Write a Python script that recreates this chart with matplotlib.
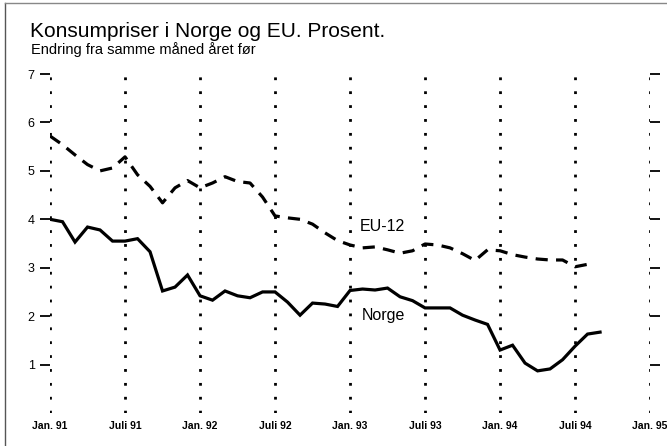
import numpy as np
import matplotlib.pyplot as plt
from matplotlib.lines import Line2D

# Monthly 12-month change, Jan 91 onwards
norge = [4.0, 3.95, 3.53, 3.84, 3.78, 3.55, 3.55, 3.6, 3.33, 2.52, 2.6, 2.85,
         2.42, 2.33, 2.52, 2.42, 2.38, 2.5, 2.5, 2.29, 2.02, 2.27, 2.25, 2.2,
         2.53, 2.56, 2.54, 2.58, 2.4, 2.32, 2.17, 2.17, 2.17, 2.02, 1.92, 1.83,
         1.3, 1.4, 1.03, 0.87, 0.91, 1.1, 1.38, 1.63, 1.67]
eu12 = [5.72, 5.54, 5.33, 5.13, 5.0, 5.06, 5.29, 4.92, 4.68, 4.34, 4.65, 4.8,
        4.65, 4.75, 4.88, 4.78, 4.75, 4.46, 4.07, 4.03, 4.0, 3.9, 3.72, 3.56,
        3.47, 3.41, 3.43, 3.37, 3.3, 3.35, 3.49, 3.47, 3.41, 3.29, 3.15, 3.37,
        3.35, 3.27, 3.22, 3.18, 3.16, 3.16, 3.02, 3.07]
tick_labels = ['Jan. 91', 'Juli 91', 'Jan. 92', 'Juli 92', 'Jan. 93',
               'Juli 93', 'Jan. 94', 'Juli 94', 'Jan. 95']
yticks = [1, 2, 3, 4, 5, 6, 7]

plt.rcParams['font.family'] = ['Liberation Sans', 'DejaVu Sans']

fig = plt.figure(figsize=(6.67, 4.46), dpi=100)
ax = fig.add_axes([0.075, 0.074, 0.8996, 0.760])

x_n = np.arange(len(norge))
x_e = np.arange(len(eu12))
xt = np.arange(0, 6 * len(tick_labels), 6)

# dotted half-year lines
for x in xt:
    ax.plot([x, x], [0, 7], color='black', lw=2, linestyle=(0, (1, 4)), zorder=1)

ax.plot(x_n, norge, color='black', lw=2.3, solid_joinstyle='miter', zorder=3)
ax.plot(x_e, eu12, color='black', lw=2.3, dashes=(3.8, 2.6), zorder=3)

ax.text(26.6, 3.86, 'EU-12', fontsize=11.5, ha='center', va='center')
ax.text(26.7, 2.02, 'Norge', fontsize=11.5, ha='center', va='center')

ax.set_xlim(0, 48)
ax.set_ylim(0, 7)
for s in ax.spines.values():
    s.set_visible(False)

ax.set_xticks(xt)
ax.set_xticklabels(tick_labels, fontsize=7.5, fontweight='bold')
ax.tick_params(axis='x', length=0, pad=6)
ax.set_yticks(yticks)
ax.set_yticklabels([str(v) for v in yticks], fontsize=9)
ax.tick_params(axis='y', length=7, width=1.3, direction='out', pad=4,
               right=True, labelright=False)

fig.text(0.045, 0.93, 'Konsumpriser i Norge og EU. Prosent.', fontsize=15, va='center')
fig.text(0.047, 0.888, 'Endring fra samme måned året før', fontsize=10.5, va='center')

# frame lines
fig.add_artist(Line2D([0.008, 0.008], [0, 0.994], transform=fig.transFigure, color='#555555', lw=1))
fig.add_artist(Line2D([0.008, 1], [0.994, 0.994], transform=fig.transFigure, color='#888888', lw=1))

fig.savefig('out.png', dpi=100)
